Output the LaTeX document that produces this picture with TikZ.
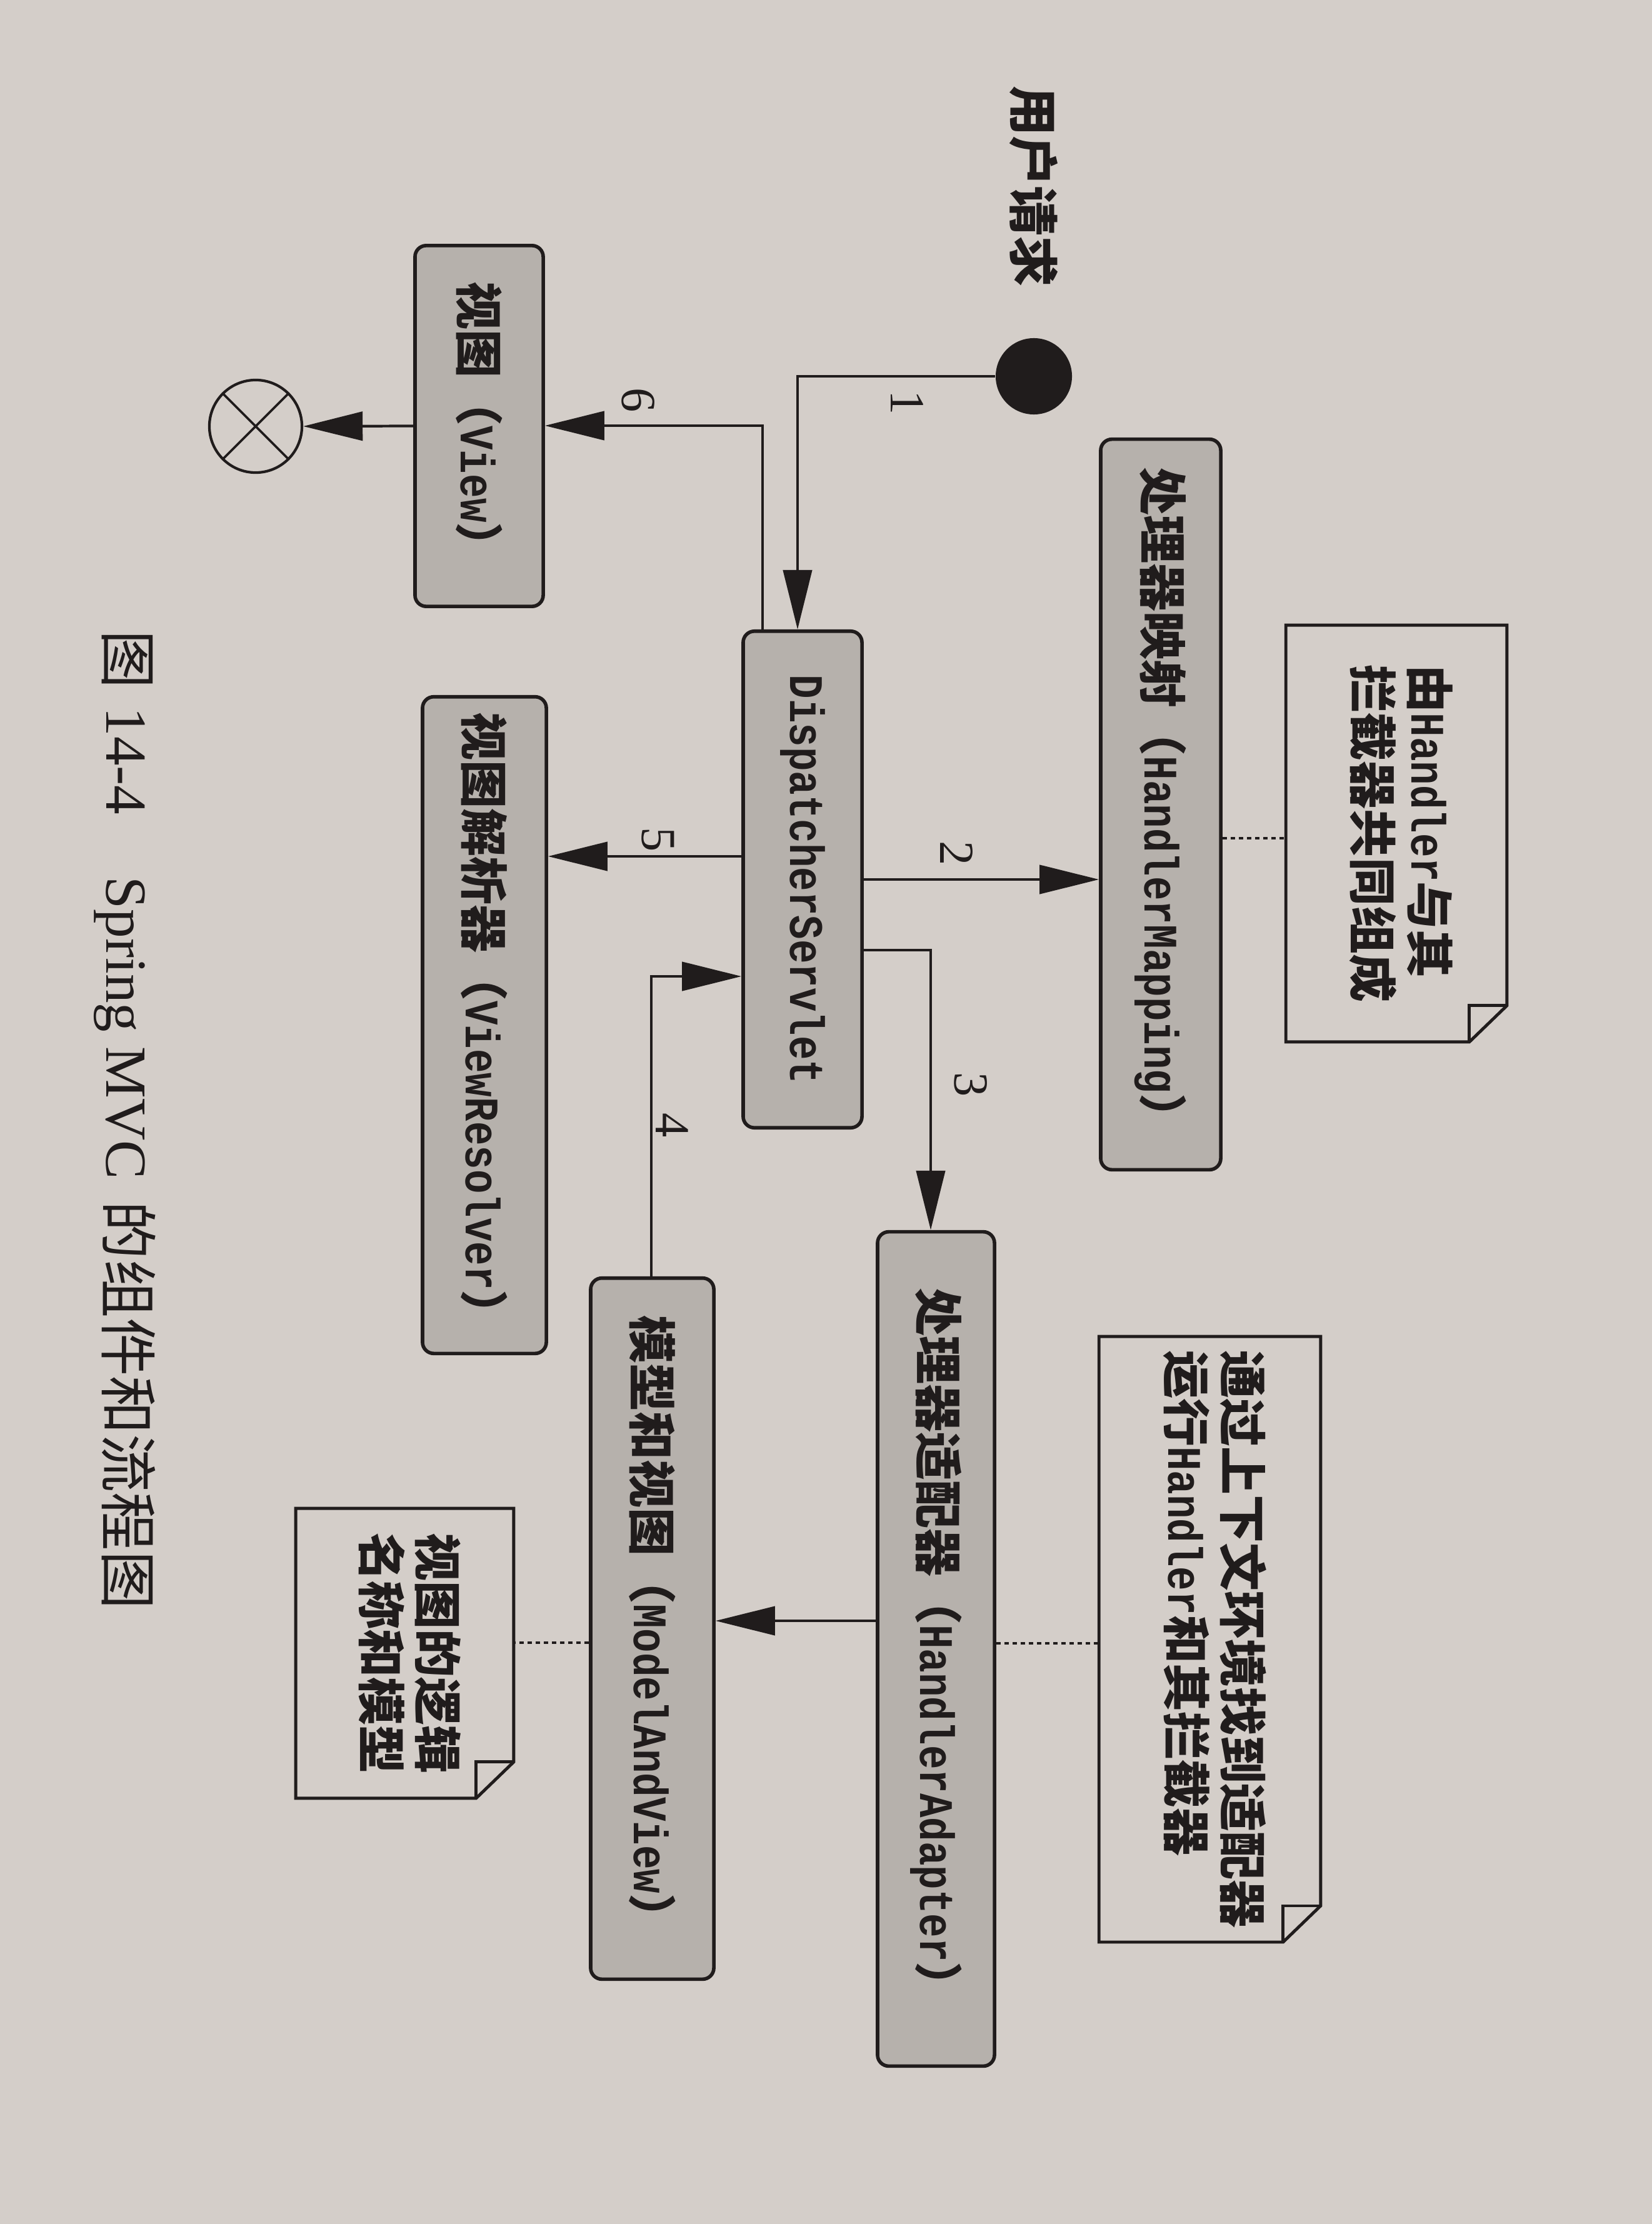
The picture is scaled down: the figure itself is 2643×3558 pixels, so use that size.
\documentclass[tikz,border=0pt]{standalone}
\usepackage{fontspec}
\usepackage{graphicx}
\usetikzlibrary{arrows.meta}
\newfontfamily\cjk{Noto Sans CJK SC}
\newfontfamily\mono{Liberation Mono}[FakeStretch=0.8333]
\newfontfamily\serifl{Liberation Serif}
\definecolor{pagebg}{RGB}{212,206,201}
\definecolor{boxfill}{RGB}{182,177,172}
\definecolor{ink}{RGB}{32,28,28}
\newcommand{\boxfnt}{\fontsize{21.9pt}{22.8pt}\selectfont\cjk}
\newcommand{\latn}[1]{{\mono\bfseries #1}}
\newcommand{\zh}[1]{{\bfseries #1}}
\newcommand{\rot}[1]{\rotatebox{-90}{#1}}
\tikzset{
  box/.style={draw=ink, fill=boxfill, rounded corners=0.18cm, line width=1.6pt, inner sep=0pt, font=\boxfnt, text=ink},
  notebox/.style={inner sep=0pt, font=\boxfnt, text=ink},
  arr/.style={draw=ink, line width=1.2pt, -{Triangle[length=0.95cm,width=0.46cm]}},
  dotl/.style={draw=ink, line width=1.1pt, dash pattern=on 0.07cm off 0.06cm},
  noteline/.style={draw=ink, line width=1.4pt, line join=miter},
  lbl/.style={font=\fontsize{22.3pt}{24pt}\selectfont\serifl, inner sep=0pt, text=ink},
}
\begin{document}
\begin{tikzpicture}[x=0.01cm, y=-0.01cm]
\useasboundingbox (0,0) rectangle (2643,3558);
\fill[pagebg] (0,0) rectangle (2643,3558);

% start / end
\node[circle, fill=ink, minimum size=1.22cm, inner sep=0pt] (start) at (1654,602) {};
\node[inner sep=0pt, text=ink, font=\fontsize{22.8pt}{24pt}\selectfont\cjk] (req) at (1654,298) {\rot{\zh{用户请求}}};
\node[circle, draw=ink, line width=1.2pt, minimum size=1.48cm, inner sep=0pt] (end) at (409,682) {};
\draw[ink, line width=1.1pt] (end.north west) -- (end.south east) (end.north east) -- (end.south west);

% boxes
\node[box, minimum width=1.92cm, minimum height=11.68cm] (hm) at (1857,1287) {\rot{\zh{处理器映射（}\latn{HandlerMapping}\zh{）}}};
\node[box, minimum width=1.90cm, minimum height=7.94cm] (ds) at (1284,1407) {\rot{\latn{DispatcherServlet}}};
\node[box, minimum width=1.87cm, minimum height=13.34cm] (ha) at (1497.5,2638) {\rot{\zh{处理器适配器（}\latn{HandlerAdapter}\zh{）}}};
\node[box, minimum width=1.97cm, minimum height=11.21cm] (mav) at (1043.5,2605.5) {\rot{\zh{模型和视图（}\latn{ModelAndView}\zh{）}}};
\node[box, minimum width=1.98cm, minimum height=10.50cm] (vr) at (775,1640) {\rot{\zh{视图解析器（}\latn{ViewResolver}\zh{）}}};
\node[box, minimum width=2.05cm, minimum height=5.77cm] (view) at (766.5,681.5) {\rot{\zh{视图（}\latn{View}\zh{）}}};

% notes
\node[notebox, minimum width=3.52cm, minimum height=6.65cm] (n1) at (2234,1333.5)
  {\rot{\begin{tabular}{@{}l@{}}\zh{由}\latn{Handler}\zh{与其}\\\zh{拦截器共同组成}\end{tabular}}};
\node[notebox, minimum width=3.53cm, minimum height=9.67cm] (n2) at (1935.5,2622.5)
  {\rot{\begin{tabular}{@{}l@{}}\zh{通过上下文环境找到适配器}\\\zh{运行}\latn{Handler}\zh{和其拦截器}\end{tabular}}};
\node[notebox, minimum width=3.47cm, minimum height=4.62cm] (n3) at (647.5,2645)
  {\rot{\begin{tabular}{@{}l@{}}\zh{视图的逻辑}\\\zh{名称和模型}\end{tabular}}};
\foreach \n in {n1,n2,n3}{
  \draw[noteline] (\n.north west) -- (\n.north east) -- ([yshift=0.58cm]\n.south east)
     -- ([xshift=-0.6cm]\n.south east) -- (\n.south west) -- cycle;
  \draw[noteline] ([yshift=0.58cm]\n.south east) -- ([shift={(-0.6cm,0.58cm)}]\n.south east)
     -- ([xshift=-0.6cm]\n.south east);
}

% helper coordinates
\coordinate (c1) at (1276,602);
\coordinate (y2) at (0,1407);
\coordinate (c3) at (1489,1520);
\coordinate (c4) at (1042,1562);
\coordinate (y5) at (0,1370);
\coordinate (c6) at (1220,681);
\coordinate (y8) at (0,2593);
\coordinate (d1) at (0,1341);
\coordinate (d2) at (0,2629);
\coordinate (d3) at (0,2628);

% connectors
\draw[arr] (start.west) -- (c1) -- (c1 |- ds.north);
\draw[arr] (ds.east |- y2) -- (hm.west |- y2);
\draw[arr] (ds.east |- c3) -- (c3) -- (c3 |- ha.north);
\draw[arr] (ha.west |- y8) -- (mav.east |- y8);
\draw[arr] (c4 |- mav.north) -- (c4) -- (ds.west |- c4);
\draw[arr] (ds.west |- y5) -- (vr.east |- y5);
\draw[arr] (c6 |- ds.north) -- (c6) -- (view.east |- c6);
\draw[arr] (view.west) -- (end.east);

\draw[dotl] (hm.east |- d1) -- (n1.west |- d1);
\draw[dotl] (ha.east |- d2) -- (n2.west |- d2);
\draw[dotl] (mav.west |- d3) -- (n3.east |- d3);

% step labels
\node[lbl] (l1) at (1451,644) {\rot{1}};
\node[lbl] (l2) at (1530,1365) {\rot{2}};
\node[lbl] (l3) at (1553,1735) {\rot{3}};
\node[lbl] (l4) at (1075,1800) {\rot{4}};
\node[lbl] (l5) at (1053,1343) {\rot{5}};
\node[lbl] (l6) at (1021,640) {\rot{6}};

% caption
\node[anchor=north, inner sep=0pt, text=ink, font=\fontsize{26.5pt}{28pt}\selectfont\cjk] (cap) at (200,1008)
  {\rot{图\hspace{0.3cm}{\serifl 14-4}\hspace{1.0cm}{\serifl Spring MVC}\hspace{0.35cm}的组件和流程图}};
\end{tikzpicture}
\end{document}
